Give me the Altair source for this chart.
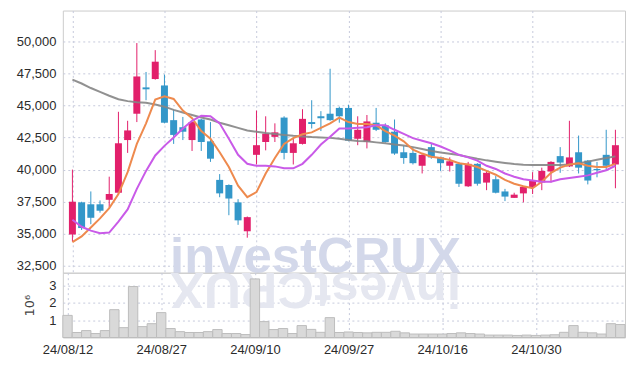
import altair as alt
import pandas as pd

# ---------------- data ----------------
dates = [
    "24/08/12", "24/08/13", "24/08/14", "24/08/16", "24/08/19", "24/08/20", "24/08/21", "24/08/22",
    "24/08/23", "24/08/26", "24/08/27", "24/08/28", "24/08/29", "24/08/30", "24/09/02", "24/09/03",
    "24/09/04", "24/09/05", "24/09/06", "24/09/09", "24/09/10", "24/09/11", "24/09/12", "24/09/13",
    "24/09/19", "24/09/20", "24/09/23", "24/09/24", "24/09/25", "24/09/26", "24/09/27", "24/09/30",
    "24/10/02", "24/10/04", "24/10/07", "24/10/08", "24/10/10", "24/10/11", "24/10/14", "24/10/15",
    "24/10/16", "24/10/17", "24/10/18", "24/10/21", "24/10/22", "24/10/23", "24/10/24", "24/10/25",
    "24/10/28", "24/10/29", "24/10/30", "24/10/31", "24/11/01", "24/11/04", "24/11/05", "24/11/06",
    "24/11/07", "24/11/08", "24/11/11", "24/11/12",
]
opens = [
    34950, 37450, 37300, 37300, 37650, 38200, 42300, 44350, 46400, 47050,
    46550, 43850, 43300, 42300, 43900, 42200, 39200, 38800, 37450, 35200,
    41150, 42150, 42550, 44050, 41300, 42000, 43700, 44150, 44350, 44800,
    44800, 42400, 42150, 43650, 43450, 42950, 41350, 41300, 40300, 41750,
    40950, 40300, 40450, 38700, 40450, 38990, 39250, 38300, 37800, 38150,
    38650, 39000, 39850, 41050, 40250, 41350, 40700, 40050, 41150, 40400,
]
highs = [
    40000, 37500, 38300, 37600, 39450, 44500, 43800, 49850, 47600, 49300,
    47400, 44650, 44100, 43750, 43950, 43700, 39650, 38850, 37700, 36350,
    44600, 44150, 43600, 44150, 42400, 44700, 45400, 44550, 47850, 44900,
    45050, 44150, 44250, 44800, 43600, 43900, 41850, 41700, 41200, 42000,
    41000, 40950, 40600, 40600, 40500, 39950, 39500, 38500, 38200, 38700,
    39800, 40150, 40650, 41750, 43800, 42650, 40750, 40600, 43100, 43100,
]
lows = [
    34400, 35300, 35750, 36650, 37050, 38100, 41300, 43700, 45400, 47000,
    43600, 42000, 42300, 41450, 41450, 40600, 37850, 36450, 35700, 34700,
    40400, 41500, 42150, 40800, 40400, 41950, 43200, 43000, 43800, 43650,
    42200, 41900, 41650, 43000, 42100, 41150, 40450, 40400, 39700, 40850,
    39900, 39850, 38650, 38650, 38750, 38400, 38150, 37550, 37800, 37450,
    38100, 38400, 39000, 39750, 40200, 39700, 38850, 39400, 39950, 38550,
]
closes = [
    37500, 35450, 36250, 36800, 38100, 42050, 43050, 47250, 46250, 48400,
    43650, 42700, 42950, 43700, 42150, 40850, 38150, 37750, 36050, 36300,
    41900, 42800, 42900, 41300, 42050, 43950, 43550, 44000, 43850, 44150,
    42250, 43100, 43750, 43100, 42150, 41250, 40900, 40500, 41150, 40950,
    40500, 40650, 38900, 40450, 38900, 39750, 38200, 37900, 38050, 38650,
    39150, 39900, 40600, 40550, 40950, 40150, 39150, 39950, 40300, 41900,
]
ma_fast = [
    34350, 34800, 35500, 36200, 37000, 38100, 39800, 42000, 43600, 45450,
    45700, 45500, 44600, 44000, 43000, 42400, 41350, 40200, 38750, 37850,
    38250, 39700, 40900, 42000, 42450, 42750, 42900, 43250, 43600, 44050,
    43700, 43550, 43550, 43450, 43000, 42650, 42200, 41550, 41250, 41000,
    40900, 40750, 40500, 40400, 40200, 39900, 39600, 39200, 38900, 38700,
    38550, 39050, 39750, 40150, 40400, 40500, 40300, 40200, 40200, 40450,
]
ma_mid = [
    36100, 35550, 35250, 35050, 35100, 35950, 36900, 38500, 39900, 41100,
    41850, 42500, 43200, 43800, 44200, 44150, 43600, 42400, 41150, 40450,
    40300, 40300, 40250, 40100, 40100, 40450, 41150, 41950, 42550, 43200,
    43200, 43250, 43300, 43450, 43450, 43100, 42780, 42450, 42250, 42050,
    41800, 41500, 41150, 40950, 40700, 40300, 40050, 39700, 39450, 39250,
    39150, 39050, 39050, 39250, 39350, 39450, 39550, 39750, 39950, 40300,
]
ma_long = [
    47000, 46700, 46350, 46050, 45750, 45480, 45330, 45250, 45200, 45070,
    44900, 44650, 44450, 44250, 44050, 43900, 43650, 43450, 43250, 43050,
    42950, 42850, 42780, 42700, 42630, 42580, 42530, 42500, 42470, 42400,
    42300, 42220, 42200, 42120, 42050, 41950, 41880, 41750, 41600, 41450,
    41330, 41230, 41130, 40980, 40840, 40720, 40620, 40520, 40430, 40380,
    40350, 40350, 40350, 40350, 40400, 40500, 40620, 40760, 40900, 41030,
]
volume_m = [
    1.28, 0.29, 0.40, 0.23, 0.40, 1.61, 0.57, 2.95, 0.63, 0.80,
    1.44, 0.52, 0.34, 0.29, 0.29, 0.34, 0.46, 0.23, 0.23, 0.17,
    3.39, 0.92, 0.46, 0.52, 0.23, 0.69, 0.47, 0.30, 1.15, 0.29,
    0.32, 0.29, 0.27, 0.30, 0.30, 0.36, 0.27, 0.20, 0.20, 0.20,
    0.20, 0.23, 0.27, 0.23, 0.20, 0.14, 0.14, 0.14, 0.12, 0.14,
    0.12, 0.14, 0.16, 0.30, 0.69, 0.30, 0.27, 0.20, 0.80, 0.75,
]
price_ticks = [32500, 35000, 37500, 40000, 42500, 45000, 47500, 50000]
volume_ticks = [1, 2, 3]
date_tick_idx = [0, 10, 20, 30, 40, 50]
watermark = ["investCRUX"]
volume_title = "10\u2076"

# ---------------- styling ----------------
RED = "#E2206B"
BLUE = "#3397C9"
ORANGE = "#EE8A4E"
PURPLE = "#C95AE8"
GRAY = "#858585"
GRID = "#C6CADC"
FONT = "Liberation Sans"
LABEL_COLOR = "#2b2b2b"

W = 564
H_PRICE = 263
H_VOL = 65

df = pd.DataFrame({
    "idx": list(range(len(dates))),
    "date": dates,
    "open": opens,
    "high": highs,
    "low": lows,
    "close": closes,
    "ma_fast": ma_fast,
    "ma_mid": ma_mid,
    "ma_long": ma_long,
    "vol": volume_m,
})
df["dir"] = ["up" if c >= o else "down" for o, c in zip(opens, closes)]

label_expr = "[" + ",".join("'" + d + "'" for d in dates) + "][datum.value]"
x_scale = alt.Scale(domain=[-0.5, len(dates) - 0.5], nice=False, zero=False)
grid_kw = dict(grid=True, gridColor=GRID, gridDash=[2, 3], gridWidth=1,
               domain=False, ticks=False, title=None)

x_price_axis = alt.Axis(values=date_tick_idx, labels=False, minExtent=0, maxExtent=0, **grid_kw)
x_vol_axis = alt.Axis(values=date_tick_idx, labelExpr=label_expr, labelPadding=6,
                      labelFontSize=13, labelFont=FONT, labelColor=LABEL_COLOR, **grid_kw)

y_price_scale = alt.Scale(domain=[31975, 52380], nice=False, zero=False)
y_price_axis = alt.Axis(values=price_ticks, format=",.0f", labelPadding=7,
                        minExtent=54, maxExtent=54, labelFontSize=13, labelFont=FONT,
                        labelColor=LABEL_COLOR, **grid_kw)


def xp():
    return alt.X("idx:Q", scale=x_scale, axis=x_price_axis)


def yp(field):
    return alt.Y(field + ":Q", scale=y_price_scale, axis=y_price_axis)


color = alt.Color("dir:N", scale=alt.Scale(domain=["up", "down"], range=[RED, BLUE]), legend=None)

base = alt.Chart(df)

wm_df = pd.DataFrame({"t": watermark})
wm = alt.Chart(wm_df).mark_text(
    font="Liberation Sans", fontWeight="bold", fontSize=51, color="#D3D8EA",
    align="center", baseline="alphabetic"
).encode(text="t:N", x=alt.value(253.5), y=alt.value(H_PRICE))

wicks = base.mark_rule(strokeWidth=1).encode(x=xp(), y=yp("low"), y2="high:Q", color=color)
bodies = base.mark_bar(size=7, orient="vertical").encode(x=xp(), y=yp("open"), y2="close:Q", color=color)
line_long = base.mark_line(color=GRAY, strokeWidth=2, opacity=0.9).encode(x=xp(), y=yp("ma_long"))
line_fast = base.mark_line(color=ORANGE, strokeWidth=2).encode(x=xp(), y=yp("ma_fast"))
line_mid = base.mark_line(color=PURPLE, strokeWidth=2).encode(x=xp(), y=yp("ma_mid"))

price = alt.layer(wm, wicks, bodies, line_long, line_fast, line_mid).properties(width=W, height=H_PRICE)

wm_ref = alt.Chart(wm_df).mark_text(
    font="Liberation Sans", fontWeight="bold", fontSize=51, color="#E5E7F0",
    align="center", baseline="alphabetic", angle=180
).encode(text="t:N", x=alt.value(253.5), y=alt.value(0))

vol_bars = base.transform_calculate(
    x0="datum.idx - 0.5", x1="datum.idx + 0.5"
).mark_bar(fill="#D9D9D9", stroke="#BDBDBD", strokeWidth=1).encode(
    x=alt.X("x0:Q", scale=x_scale, axis=x_vol_axis),
    x2="x1:Q",
    y=alt.Y("vol:Q", scale=alt.Scale(domain=[0, 3.75], nice=False),
            axis=alt.Axis(values=volume_ticks, grid=True, gridColor=GRID, gridDash=[2, 3],
                          domain=False, ticks=False, labelPadding=7, minExtent=20, maxExtent=20,
                          labelFontSize=13, labelFont=FONT, labelColor=LABEL_COLOR,
                          title=volume_title, titleFontSize=13, titleFontWeight="normal",
                          titleColor="#444444", titlePadding=6, titleFont="DejaVu Sans")),
    y2=alt.datum(0),
)

volume = alt.layer(wm_ref, vol_bars).properties(width=W, height=H_VOL)

chart = alt.vconcat(price, volume, spacing=0, bounds="flush").properties(
    padding={"left": 0, "top": 1, "right": 0, "bottom": 0}
).configure_view(stroke="#CCCCCC")

chart.save("out.html", embed_options={"renderer": "svg", "actions": False})
